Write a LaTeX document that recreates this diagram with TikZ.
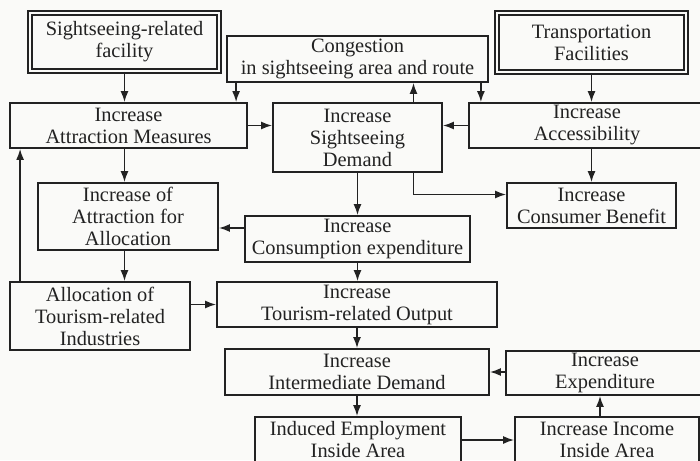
\documentclass[tikz,border=0pt]{standalone}
\usepackage{fontspec}
\setmainfont{Liberation Serif}
\usetikzlibrary{arrows.meta,calc}
\definecolor{ink}{HTML}{222222}
\definecolor{paper}{HTML}{FAFAF8}

\begin{document}
\begin{tikzpicture}[x=0.5pt, y=-0.5pt,
    box/.style={draw=ink, line width=0.9pt, fill=paper, text=ink, align=center,
        inner sep=0pt, font=\fontsize{10.2}{11}\selectfont},
    dbox/.style={box, double=paper, double distance=1.2pt, line width=0.8pt},
    arr/.style={-{Latex[length=5.5pt,width=4pt]}, draw=ink, line width=0.8pt}]
    \fill[paper] (0,0) rectangle (700,460);
    \useasboundingbox (0,0) rectangle (700,460);

    % top row
    \node[dbox, minimum width=94.5pt, minimum height=29pt] (fac) at (124.5,42) {Sightseeing-related\\facility};
    \node[box, minimum width=130.5pt, minimum height=23pt] (cong) at (357.5,59) {Congestion\\in sightseeing area and route};
    \node[dbox, minimum width=94.5pt, minimum height=29.5pt] (trans) at (591.5,42.5) {Transportation\\Facilities};

    \node[box, minimum width=118.5pt, minimum height=22.5pt] (attr) at (128.5,125.5) {Increase\\Attraction Measures};
    \node[box, minimum width=84.5pt, minimum height=34.5pt] (dem) at (357.5,137.5) {Increase\\Sightseeing\\Demand};
    \node[box, minimum width=118pt, minimum height=22.5pt] (acc) at (587,125.5) {Increase\\Accessibility};

    \node[box, minimum width=90pt, minimum height=33.5pt] (alloc) at (128,216.5) {Increase of\\Attraction for\\Allocation};
    \node[box, minimum width=112.5pt, minimum height=23pt] (cons) at (357.5,239) {Increase\\Consumption expenditure};
    \node[box, minimum width=84.5pt, minimum height=22.5pt] (ben) at (591.5,205.5) {Increase\\Consumer Benefit};

    \node[box, minimum width=90pt, minimum height=34pt] (ind) at (100,316) {Allocation of\\Tourism-related\\Industries};
    \node[box, minimum width=140pt, minimum height=22.5pt] (out) at (357,304.5) {Increase\\Tourism-related Output};

    % bottom rows
    \node[box, minimum width=132pt, minimum height=23pt] (inter) at (357,372) {Increase\\Intermediate Demand};
    \node[box, minimum width=99pt, minimum height=22pt] (expd) at (605,373) {Increase\\Expenditure};
    \node[box, minimum width=103pt, minimum height=23pt] (emp) at (358,440) {Induced Employment\\Inside Area};
    \node[box, minimum width=92pt, minimum height=23pt] (inc) at (607,440) {Increase Income\\Inside Area};

    \coordinate (c1) at ($(cong.south west)+(10,0)$);
    \coordinate (c2) at ($(cong.south east)+(-8,0)$);
    \coordinate (d1) at ($(dem.north)+(56,0)$);
    \coordinate (d2) at ($(dem.south)+(56,0)$);
    \coordinate (b1) at ($(ben.west)+(0,-11)$);
    \coordinate (e1) at ($(cons.west)+(0,-11)$);
    \coordinate (f1) at ($(ind.north west)+(11,0)$);
    \coordinate (g1) at ($(inc.north)+(-7,0)$);

    \draw[arr] (fac.south) -- (fac.south |- attr.north);
    \draw[arr] (c1) -- (c1 |- attr.north);
    \draw[arr] (c2) -- (c2 |- acc.north);
    \draw[arr] (d1) -- (d1 |- cong.south);
    \draw[arr] (trans.south) -- (trans.south |- acc.north);
    \draw[arr] (attr.east) -- (attr.east -| dem.west);
    \draw[arr] (acc.west) -- (acc.west -| dem.east);
    \draw[arr] (ben.north |- acc.south) -- (ben.north);
    \draw[arr] (d2) |- (b1);
    \draw[arr] (attr.south -| fac.south) -- (alloc.north -| fac.south);
    \draw[arr] (e1) -- (e1 -| alloc.east);
    \draw[arr] (alloc.south -| fac.south) -- (ind.north -| fac.south);
    \draw[arr] (f1) -- (f1 |- attr.south);
    \draw[arr] (out.west -| ind.east) -- (out.west);
    \foreach \a/\b in {dem/cons, cons/out, out/inter, inter/emp}
        \draw[arr] (\a.south) -- (\a.south |- \b.north);
    \draw[arr] (expd.west |- inter.east) -- (inter.east);
    \draw[arr] (emp.east) -- (emp.east -| inc.west);
    \draw[arr] (g1) -- (g1 |- expd.south);
\end{tikzpicture}
\end{document}
